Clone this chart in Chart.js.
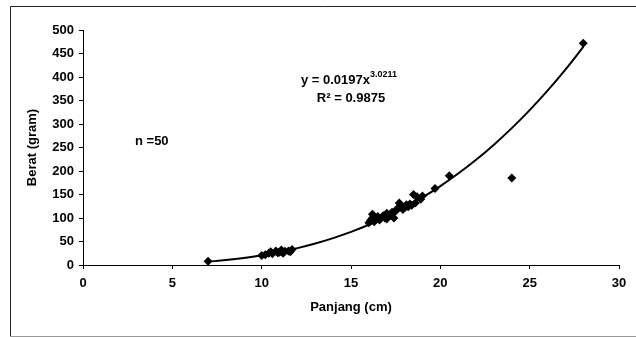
<!DOCTYPE html>
<html>
<head>
<meta charset="utf-8">
<script src="https://cdn.jsdelivr.net/npm/chart.js@4.4.0/dist/chart.umd.min.js"></script>
<style>
  html, body { margin: 0; padding: 0; background: #fff; }
  #wrap { width: 636px; height: 337px; }
</style>
</head>
<body>
<div id="wrap"><canvas id="lwChart" width="636" height="337"></canvas></div>
<script>
// Observed length (cm) and weight (gram), n = 50
const panjang = [7.0,
    10.0, 10.2, 10.4, 10.5, 10.6, 10.8, 10.9, 11.0, 11.1, 11.2, 11.3, 11.5, 11.6, 11.7,
    16.0, 16.1, 16.2, 16.2, 16.3, 16.4, 16.5, 16.6, 16.8, 16.9, 17.0, 17.0, 17.1, 17.2, 17.3,
    17.4, 17.5, 17.6, 17.7, 17.8, 17.9, 18.0, 18.1, 18.2, 18.3, 18.4, 18.5, 18.6, 18.7, 18.9,
    19.0, 19.7, 20.5, 24.0, 28.0];
const berat = [8,
    20, 22, 25, 28, 24, 30, 26, 27, 32, 25, 29, 30, 28, 33,
    90, 95, 100, 108, 92, 98, 103, 96, 105, 100, 110, 98, 104, 108, 112,
    100, 115, 120, 132, 125, 118, 122, 128, 124, 130, 127, 150, 132, 145, 140,
    147, 163, 190, 185, 472];

// Power trendline
const trendX = [7, 8, 9, 10, 11, 12, 13, 14, 15, 16, 17, 18, 19, 20, 21, 22, 23, 24, 25, 26, 27, 28];
const trendY = [7, 10.5, 15, 20.7, 27.6, 35.9, 45.7, 57.2, 70.4, 85.6, 102.8, 122.1, 143.8,
    167.9, 194.6, 223.9, 256.1, 291.2, 329.4, 370.9, 415.7, 463.9];

const xTicks = [0, 5, 10, 15, 20, 25, 30];
const yTicks = [0, 50, 100, 150, 200, 250, 300, 350, 400, 450, 500];

const persamaan = "y = 0.0197x";
const pangkat = "3.0211";
const rKuadrat = "R² = 0.9875";
const jumlah = "n =50";

const FONT = "'Liberation Sans', Arial, sans-serif";

// frame around the whole picture
const framePlugin = {
    id: "frame",
    beforeDraw(chart) {
        const c = chart.ctx;
        c.save();
        c.fillStyle = "#fff";
        c.fillRect(0, 0, chart.width, chart.height);
        c.strokeStyle = "#222";
        c.lineWidth = 1;
        c.beginPath();
        c.moveTo(10.5, 337);
        c.lineTo(10.5, 6.5);
        c.lineTo(636, 6.5);
        c.stroke();
        c.strokeStyle = "#999";
        c.beginPath();
        c.moveTo(10, 336.5);
        c.lineTo(636, 336.5);
        c.stroke();
        c.restore();
    }
};

// equation, R2 and sample size text
const labelPlugin = {
    id: "labels",
    afterDatasetsDraw(chart) {
        const c = chart.ctx;
        c.save();
        c.fillStyle = "#000";
        c.textBaseline = "middle";
        c.font = "bold 13px " + FONT;
        const w1 = c.measureText(persamaan).width;
        c.font = "bold 9px " + FONT;
        const w2 = c.measureText(pangkat).width;
        let x0 = 349 - (w1 + w2) / 2;
        c.textAlign = "left";
        c.font = "bold 13px " + FONT;
        c.fillText(persamaan, x0, 80);
        c.font = "bold 9px " + FONT;
        c.fillText(pangkat, x0 + w1, 75);
        c.font = "bold 13px " + FONT;
        c.textAlign = "center";
        c.fillText(rKuadrat, 351, 98);
        c.textAlign = "left";
        c.fillText(jumlah, 135, 141);
        c.restore();
    }
};

const ctx = document.getElementById("lwChart").getContext("2d");

const lwChart = new Chart(ctx, {
    type: "scatter",
    data: {
        datasets: [
            {
                label: "Data",
                data: panjang.map((p, i) => ({ x: p, y: berat[i] })),
                pointStyle: "rectRot",
                pointRadius: 4.5,
                backgroundColor: "#000",
                borderColor: "#000",
                borderWidth: 0
            },
            {
                type: "line",
                label: "Trend",
                data: trendX.map((p, i) => ({ x: p, y: trendY[i] })),
                borderColor: "#000",
                borderWidth: 2,
                pointRadius: 0,
                tension: 0.4,
                fill: false
            }
        ]
    },
    options: {
        responsive: false,
        animation: false,
        devicePixelRatio: 1,
        layout: { padding: { top: 30, right: 17, left: 0, bottom: 0 } },
        plugins: {
            legend: { display: false },
            tooltip: { enabled: false }
        },
        scales: {
            x: {
                type: "linear",
                min: 0,
                max: 30,
                afterBuildTicks: (scale) => { scale.ticks = xTicks.map(v => ({ value: v })); },
                afterFit: (scale) => { scale.height = 72; },
                grid: { drawOnChartArea: false, tickLength: 4, color: "#000" },
                border: { display: true, color: "#000", width: 1 },
                ticks: { color: "#000", padding: 7, maxRotation: 0, font: { family: FONT, size: 13, weight: "bold" } },
                title: {
                    display: true,
                    text: "Panjang (cm)",
                    color: "#000",
                    font: { family: FONT, size: 13, weight: "bold" },
                    padding: { top: 22, bottom: 22 }
                }
            },
            y: {
                type: "linear",
                min: 0,
                max: 500,
                afterBuildTicks: (scale) => { scale.ticks = yTicks.map(v => ({ value: v })); },
                afterFit: (scale) => { scale.width = 83; },
                grid: { drawOnChartArea: false, tickLength: 4, color: "#000" },
                border: { display: true, color: "#000", width: 1 },
                ticks: { color: "#000", padding: 5, font: { family: FONT, size: 13, weight: "bold" } },
                title: {
                    display: true,
                    text: "Berat (gram)",
                    color: "#000",
                    font: { family: FONT, size: 13, weight: "bold" },
                    padding: { top: 25, bottom: 25 }
                }
            }
        }
    },
    plugins: [framePlugin, labelPlugin]
});
</script>
</body>
</html>
